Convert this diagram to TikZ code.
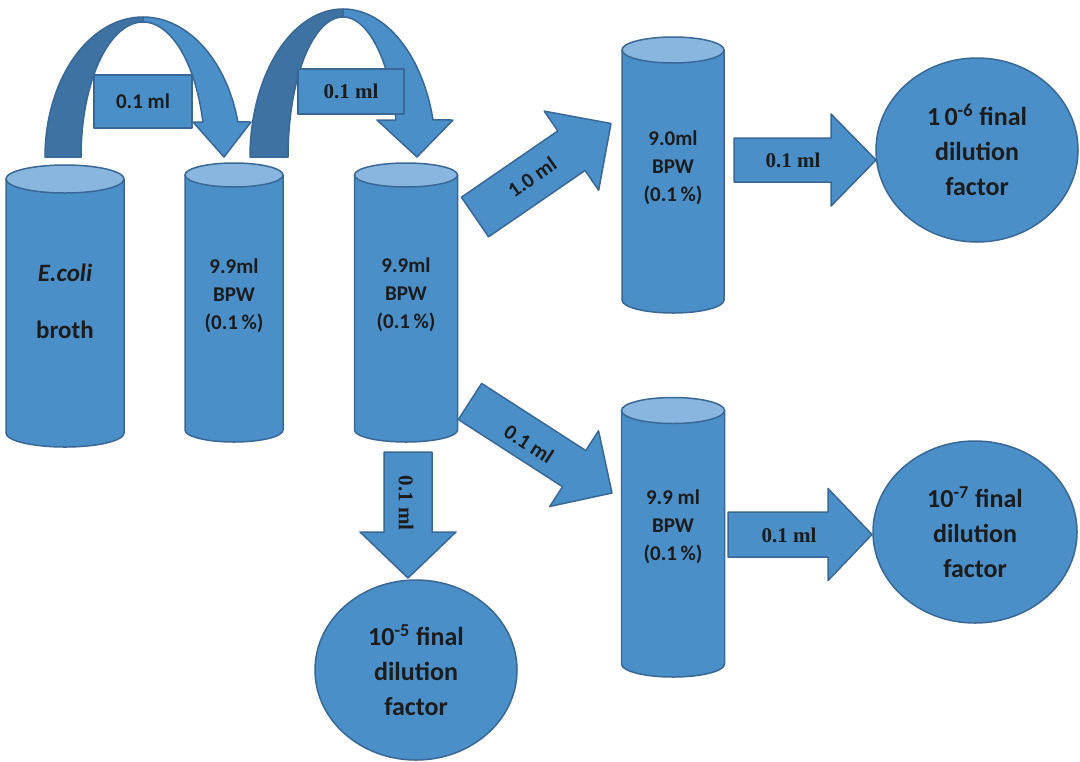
\documentclass[tikz,border=0pt]{standalone}
\usepackage{fontspec}
\setmainfont{Carlito}
\newfontfamily\serifbold{Liberation Serif}
\usetikzlibrary{calc,shapes.geometric}
\definecolor{mainblue}{RGB}{75,143,200}
\definecolor{topblue}{RGB}{137,182,222}
\definecolor{backblue}{RGB}{62,114,162}
\definecolor{edgeblue}{RGB}{58,104,150}
\definecolor{txt}{RGB}{28,28,28}
\tikzset{
  body/.style={fill=mainblue, draw=edgeblue, line width=0.75pt, line join=round},
  back/.style={fill=backblue, draw=edgeblue, line width=0.75pt, line join=round},
  lid/.style={fill=topblue, draw=edgeblue, line width=0.75pt},
  tubetext/.style={text=txt, align=center, font=\fontsize{10.5}{14}\selectfont\bfseries},
  roundtext/.style={body, ellipse, inner sep=0pt, text=txt, align=center, font=\fontsize{13}{17.5}\selectfont\bfseries},
  sanslabel/.style={text=txt, font=\fontsize{10.5}{12}\selectfont\bfseries},
  seriflabel/.style={text=txt, font=\fontsize{10.5}{12}\selectfont\serifbold\bfseries},
}
% cylinder: cx, ytop, ybot, rx, ry
\newcommand{\tube}[5]{%
  \filldraw[body] ({#1-#4},#2) -- ({#1-#4},#3) arc[start angle=180,end angle=0,x radius=#4,y radius=#5] -- ({#1+#4},#2) -- cycle;
  \filldraw[lid] (#1,#2) ellipse[x radius=#4,y radius=#5];
}
% block arrow: from, to, body half, head half, head length (pt)
\newcommand{\blockarrow}[5]{%
  \coordinate (ba-h) at ($(#2)!#5!(#1)$);
  \filldraw[body] ($(#1)!#3!90:(#2)$) -- ($(ba-h)!#3!90:(#2)$) -- ($(ba-h)!#4!90:(#2)$) -- (#2)
    -- ($(ba-h)!#4!-90:(#2)$) -- ($(ba-h)!#3!-90:(#2)$) -- ($(#1)!#3!-90:(#2)$) -- cycle;
}
\begin{document}
\begin{tikzpicture}[x=0.5pt,y=-0.5pt]
\fill[white] (0,0) rectangle (1080,761);
\useasboundingbox (0,0) rectangle (1080,761);

% curved arrow 1
\filldraw[back] plot[domain=180:90,samples=50] ({143+98*cos(\x)},{157-140*sin(\x)})
  -- plot[domain=90:180,samples=50] ({143+62*cos(\x)},{157-135*sin(\x)}) -- cycle;
\filldraw[body] plot[domain=90:14.5,samples=50] ({143+98*cos(\x)},{157-140*sin(\x)})
  -- (251,122) -- (224,157) -- (193,122)
  -- plot[domain=15:90,samples=50] ({143+62*cos(\x)},{157-135*sin(\x)}) -- cycle;
\node[body, rectangle, minimum width=49pt, minimum height=26.5pt, inner sep=0pt] (box1) at (143,101.5) {};
\node[sanslabel] (lab1) at (box1) {0.1\ ml};

% curved arrow 2
\filldraw[back] plot[domain=180:90,samples=50] ({343+93*cos(\x)},{157-148*sin(\x)})
  -- plot[domain=90:180,samples=50] ({343+55*cos(\x)},{157-140*sin(\x)}) -- cycle;
\filldraw[body] plot[domain=90:14.5,samples=50] ({343+93*cos(\x)},{157-148*sin(\x)})
  -- (453,120) -- (417,157) -- (377,120)
  -- plot[domain=15.3:90,samples=50] ({343+55*cos(\x)},{157-140*sin(\x)}) -- cycle;
\node[body, rectangle, minimum width=53pt, minimum height=22.5pt, inner sep=0pt] (box2) at (351,91.5) {};
\node[seriflabel] (lab2) at (box2) {0.1 ml};

% cylinders
\tube{65}{179}{433}{59}{14}
\node[text=txt, align=center, font=\fontsize{12.5}{28.5}\selectfont\bfseries] (c1) at (65,301) {\textit{E.coli}\\broth};
\tube{234}{175}{430}{49}{12}
\node[tubetext] (c2) at (234,296) {9.9ml\\BPW\\(0.1\,\%)};
\tube{406}{175}{430}{51.5}{12}
\node[tubetext] (c3) at (406,294.5) {9.9ml\\BPW\\(0.1\,\%)};
\tube{673}{50}{300}{51}{13}
\node[tubetext] (c4) at (673,167.5) {9.0ml\\BPW\\(0.1\,\%)};
\tube{673}{410.5}{664}{51.5}{13}
\node[tubetext] (c5) at (673,527) {9.9 ml\\BPW\\(0.1\,\%)};

% final dilution ellipses
\node[roundtext, minimum width=101pt, minimum height=92pt] (f6) at (977,150) {1\,0\textsuperscript{-6} final\\dilution\\factor};
\node[roundtext, minimum width=102pt, minimum height=91pt] (f7) at (975,532) {10\textsuperscript{-7} final\\dilution\\factor};
\node[roundtext, minimum width=101pt, minimum height=90pt] (f5) at (416,670) {10\textsuperscript{-5} final\\dilution\\factor};

% arrow anchors
\coordinate (a4s) at (734,160);  \coordinate (a4e) at (876,160);
\coordinate (a5s) at (728,534.5); \coordinate (a5e) at (872,534.5);
\coordinate (a3s) at (408,452);  \coordinate (a3e) at (408,578);
\coordinate (aDs) at (475,217);  \coordinate (aDe) at (611,123.5);
\coordinate (aEs) at (470,401.5); \coordinate (aEe) at (612,493);

\blockarrow{a4s}{a4e}{11pt}{23pt}{22.5pt}
\blockarrow{a5s}{a5e}{11.25pt}{23pt}{22pt}
\blockarrow{a3s}{a3e}{12pt}{24pt}{23pt}
\blockarrow{aDs}{aDe}{12pt}{24pt}{24pt}
\blockarrow{aEs}{aEe}{10.75pt}{22.5pt}{22.5pt}

\node[seriflabel] (l4) at (793,160) {0.1 ml};
\node[seriflabel] (l5) at (789,535) {0.1 ml};
\node[seriflabel, rotate=-90] (l3) at (406,503) {0.1 ml};
\node[sanslabel, rotate=35] (lD) at (532,177) {1.0 ml};
\node[sanslabel, rotate=-33] (lE) at (529,444) {0.1 ml};
\end{tikzpicture}
\end{document}
